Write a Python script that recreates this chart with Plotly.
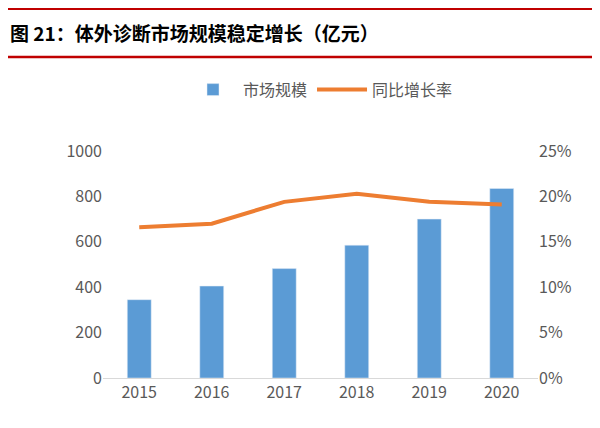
import plotly.graph_objects as go

years = ["2015", "2016", "2017", "2018", "2019", "2020"]
market = [345, 405, 482, 585, 700, 835]
growth = [0.166, 0.170, 0.194, 0.203, 0.194, 0.191]

fig = go.Figure()
fig.add_bar(x=years, y=market, name="市场规模", marker_color="#5B9BD5", width=0.33)
fig.add_scatter(x=years, y=growth, name="同比增长率", yaxis="y2", mode="lines",
                line=dict(color="#ED7D31", width=4))
font = "Noto Sans CJK SC"
fig.update_layout(
    width=600, height=428, plot_bgcolor="white", paper_bgcolor="white",
    margin=dict(l=95, r=70, t=143, b=58),
    font=dict(family=font, size=15, color="#595959"),
    showlegend=True,
    legend=dict(orientation="h", x=0.5, xanchor="center", y=1.27, yanchor="middle",
                font=dict(size=16, color="#595959"), itemwidth=50),
    xaxis=dict(showline=True, linecolor="#D9D9D9", ticks="", tickfont=dict(size=16)),
    yaxis=dict(range=[0, 1000], dtick=200, showgrid=False, ticks="", tickfont=dict(size=16)),
    yaxis2=dict(range=[0, 0.25], dtick=0.05, tickformat=".0%", overlaying="y", side="right",
                showgrid=False, ticks="", tickfont=dict(size=16)),
    bargap=0.6,
)
fig.add_annotation(text="<b>图 21：体外诊断市场规模稳定增长（亿元）</b>", xref="paper", yref="paper",
                   x=-95/435, y=(370-25)/227, xanchor="left", yanchor="middle", showarrow=False,
                   font=dict(size=19, color="black", family=font))
fig.add_shape(type="line", xref="paper", yref="paper", x0=-0.3, x1=1.3,
              y0=(370-1)/227, y1=(370-1)/227, line=dict(color="#C00000", width=2))
fig.add_shape(type="line", xref="paper", yref="paper", x0=-0.3, x1=1.3,
              y0=(370-49)/227, y1=(370-49)/227, line=dict(color="#C00000", width=2.5))
fig.write_html("out.html")
